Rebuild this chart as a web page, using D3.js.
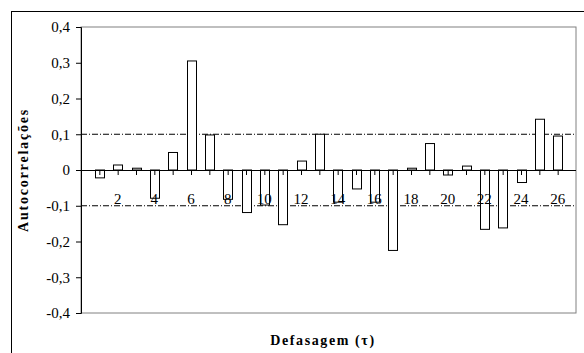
<!DOCTYPE html>
<html lang="pt">

<head>
    <meta charset="UTF-8">
    <title>Autocorrelações</title>
    <style>
        body { margin: 0; background: #fff; }
        text { font-family: "Liberation Serif", "Times New Roman", serif; fill: #000; }
    </style>
</head>

<body>
    <svg id="chart"></svg>

    <script src="https://cdn.jsdelivr.net/npm/d3@7"></script>
    <script>
        const lags = d3.range(1, 27);
        const acf = [-0.022, 0.014, 0.005, -0.079, 0.049, 0.305, 0.098, -0.082, -0.119, -0.098,
            -0.153, 0.025, 0.100, -0.090, -0.053, -0.090, -0.225, 0.005, 0.074, -0.014,
            0.011, -0.166, -0.162, -0.035, 0.142, 0.095];
        const yTicks = [-0.4, -0.3, -0.2, -0.1, 0, 0.1, 0.2, 0.3, 0.4];
        const xLabels = [2, 4, 6, 8, 10, 12, 14, 16, 18, 20, 22, 24, 26];
        const limits = [0.1, -0.1];

        const W = 584, H = 353;
        const chart = d3.select('#chart').attr('width', W).attr('height', H);

        const plotL = 81, plotR = 576, plotT = 27, plotB = 313;

        const x = d3.scaleLinear().domain([0, 27]).range([plotL, plotR]);
        const y = d3.scaleLinear().domain([-0.4, 0.4]).range([plotB, plotT]);

        const fmt = d => d === 0 ? '0' : d3.format('.1f')(d).replace('.', ',').replace('−', '-');

        // outer frame
        chart.append('rect')
            .attr('x', 11.5).attr('y', 11.5)
            .attr('width', W).attr('height', H)
            .attr('fill', 'none').attr('stroke', '#000');

        // plot area border
        chart.append('rect')
            .attr('x', plotL).attr('y', plotT)
            .attr('width', plotR - plotL).attr('height', plotB - plotT)
            .attr('fill', 'none').attr('stroke', '#808080');

        // y axis
        chart.append('g')
            .attr('transform', `translate(${plotL},0)`)
            .call(d3.axisLeft(y).tickValues(yTicks).tickFormat(fmt).tickSize(5).tickPadding(6))
            .call(g => g.selectAll('text').attr('font-size', 15).style('font-family', '"Liberation Serif", serif'))
            .call(g => g.select('.domain').attr('stroke', '#000'));

        // limit lines
        chart.selectAll('.lim')
            .data(limits)
            .enter()
            .append('line')
            .attr('x1', plotL).attr('x2', plotR)
            .attr('y1', d => y(d)).attr('y2', d => y(d))
            .attr('stroke', '#000').attr('stroke-width', 1)
            .attr('stroke-dasharray', '6,2,1,2');

        // bars
        const bw = 9;
        chart.selectAll('.bar')
            .data(lags)
            .enter()
            .append('rect')
            .attr('x', d => Math.round(x(d) - bw / 2) + 0.5)
            .attr('y', (d, i) => y(Math.max(0, acf[i])))
            .attr('width', bw)
            .attr('height', (d, i) => Math.abs(y(acf[i]) - y(0)))
            .attr('fill', '#fff')
            .attr('stroke', '#000');

        // x axis at zero
        chart.append('g')
            .attr('transform', `translate(0,${y(0)})`)
            .call(d3.axisBottom(x).tickValues(lags).tickFormat('').tickSize(5))
            .call(g => g.select('.domain').attr('d', `M${plotL},0.5H${plotR}`).attr('stroke', '#000'));

        chart.selectAll('.xl')
            .data(xLabels)
            .enter()
            .append('text')
            .attr('x', d => x(d))
            .attr('y', y(0) + 34)
            .attr('text-anchor', 'middle')
            .attr('font-size', 15)
            .text(d => d);

        // axis titles
        chart.append('text')
            .attr('transform', `translate(28,${(plotT + plotB) / 2}) rotate(-90)`)
            .attr('text-anchor', 'middle')
            .attr('font-size', 14)
            .attr('font-weight', 'bold')
            .attr('letter-spacing', 1.8)
            .text('Autocorrelações');

        chart.append('text')
            .attr('x', 323)
            .attr('y', 345)
            .attr('text-anchor', 'middle')
            .attr('font-size', 14)
            .attr('font-weight', 'bold')
            .attr('letter-spacing', 1.6)
            .text('Defasagem (τ)');
    </script>
</body>

</html>
